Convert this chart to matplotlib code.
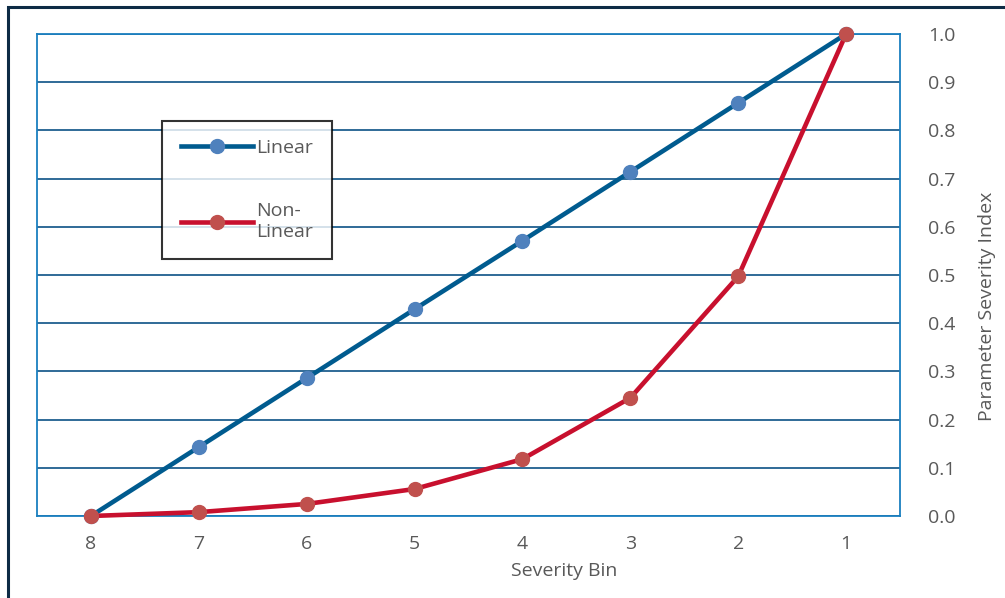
import matplotlib.pyplot as plt
from matplotlib.patches import Rectangle

# severity bins, most severe on the right
bins = ['8', '7', '6', '5', '4', '3', '2', '1']
linear = [0.0, 0.143, 0.286, 0.429, 0.571, 0.714, 0.857, 1.0]
non_linear = [0.0, 0.008, 0.025, 0.056, 0.118, 0.245, 0.497, 1.0]
y_ticks = [0.0, 0.1, 0.2, 0.3, 0.4, 0.5, 0.6, 0.7, 0.8, 0.9, 1.0]

plt.rcParams['font.family'] = ['Open Sans', 'DejaVu Sans']
text_color = '#595959'

fig = plt.figure(figsize=(10.05, 5.98), dpi=100)
ax = fig.add_axes([37 / 1005, 1 - 516 / 598, 863 / 1005, 482 / 598])

x = list(range(len(bins)))
ax.plot(x, linear, '-o', color='#005b8f', lw=3.3, ms=10,
        markerfacecolor='#4f81bd', markeredgecolor='#4f81bd', zorder=4,
        label='Linear', clip_on=False)
ax.plot(x, non_linear, '-o', color='#c8102e', lw=3.3, ms=10,
        markerfacecolor='#c0504d', markeredgecolor='#c0504d', zorder=5,
        label='Non-\nLinear', clip_on=False)

ax.set_xlim(-0.5, len(bins) - 0.5)
ax.set_ylim(0, 1)
ax.set_xticks(x)
ax.set_xticklabels(bins)
ax.set_yticks(y_ticks)
ax.set_yticklabels([f'{v:.1f}' for v in y_ticks])
ax.yaxis.tick_right()
ax.yaxis.set_label_position('right')
ax.tick_params(length=0, labelsize=14, labelcolor=text_color)
ax.tick_params(axis='y', pad=20)
ax.tick_params(axis='x', pad=14)

ax.grid(axis='y', color='#1f5f8f', lw=1.3)
ax.set_axisbelow(True)
for s in ax.spines.values():
    s.set_color('#1a7fbf')
    s.set_linewidth(1.3)

ax.set_xlabel('Severity Bin', fontsize=14, color=text_color)
ax.xaxis.set_label_coords(0.611, -0.095)
ax.set_ylabel('Parameter Severity Index', fontsize=14, color=text_color)
ax.yaxis.set_label_coords(1.09, 0.435)

leg = ax.legend(loc='upper left', bbox_to_anchor=(0.145, 0.82), frameon=True,
                fancybox=False, edgecolor='black', fontsize=14,
                labelcolor=text_color, handlelength=3.7, handletextpad=0.2,
                labelspacing=2.3, borderpad=0.95, borderaxespad=0)
leg.get_frame().set_linewidth(1.5)

# outer frame of the chart area
fig.patches.append(Rectangle((8 / 1005, -0.1), 1.2, 1 - 7 / 598 + 0.1,
                             transform=fig.transFigure, fill=False,
                             edgecolor='#0d2b45', lw=2.2))

fig.savefig('out.png', dpi=100)
